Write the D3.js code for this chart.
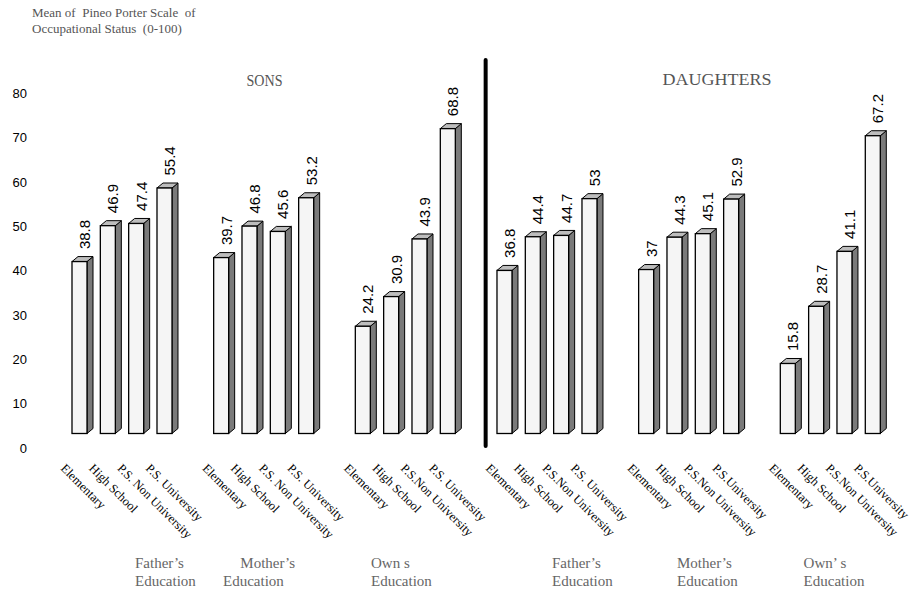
<!DOCTYPE html>
<html><head><meta charset="utf-8">
<script src="https://cdn.jsdelivr.net/npm/d3@7"></script>
<style>
html,body{margin:0;padding:0;background:#fff;}
svg{display:block;}
</style></head>
<body>
<svg id="chart" width="914" height="592"></svg>
<script>
// ---- data ----
const panels = ["SONS", "DAUGHTERS"];
const groupLine1 = ["Father’s", "Mother’s", "Own s", "Father’s", "Mother’s", "Own’ s"];
const groupLine2 = ["Education", "Education", "Education", "Education", "Education", "Education"];
const categories = [
  ["Elementary", "High School", "P.S. Non University", "P.S. University"],
  ["Elementary", "High School", "P.S. Non University", "P.S. University"],
  ["Elementary", "High School", "P.S.Non University", "P.S. University"],
  ["Elementary", "High School", "P.S.Non University", "P.S. University"],
  ["Elementary", "High School", "P.S.Non University", "P.S.University"],
  ["Elementary", "High School", "P.S.Non University", "P.S.University"]
];
const sonsFather   = [38.8, 46.9, 47.4, 55.4];
const sonsMother   = [39.7, 46.8, 45.6, 53.2];
const sonsOwn      = [24.2, 30.9, 43.9, 68.8];
const daughtersFather = [36.8, 44.4, 44.7, 53];
const daughtersMother = [37, 44.3, 45.1, 52.9];
const daughtersOwn    = [15.8, 28.7, 41.1, 67.2];
const series = [sonsFather, sonsMother, sonsOwn, daughtersFather, daughtersMother, daughtersOwn];
const yTicks = [0, 10, 20, 30, 40, 50, 60, 70, 80];
const valueLabels = [
  ["38.8","46.9","47.4","55.4"],["39.7","46.8","45.6","53.2"],["24.2","30.9","43.9","68.8"],
  ["36.8","44.4","44.7","53"],["37","44.3","45.1","52.9"],["15.8","28.7","41.1","67.2"]
];

// ---- layout ----
const serif = "'Liberation Serif','Times New Roman',serif";
const sans = "'Liberation Sans',Arial,sans-serif";
const barW = 15, depX = 6, depY = 5, baseShift = 14;
const slotsPerGroup = 5; // 4 bars + 1 gap
const totalSlots = 6 * slotsPerGroup - 1;
const x = d3.scaleLinear().domain([0, totalSlots - 1]).range([72, 865.3]);
const y = d3.scaleLinear().domain([0, 80]).range([447.5, 93]);
// group label offsets (relative to first bar left of group)
const lblOff1 = [63, 26.7, 15.7, 55, 38.4, 23.3];
const lblOff2 = [63, 9.4, 15.7, 55, 38.4, 23.3];

const svg = d3.select("#chart");

// title
const title = svg.append("text").attr("font-family", serif).attr("font-size", 13)
  .attr("fill", "#555").style("white-space", "pre");
title.append("tspan").attr("x", 32).attr("y", 17).text("Mean of  Pineo Porter Scale  of");
title.append("tspan").attr("x", 32).attr("y", 33).text("Occupational Status  (0-100)");

// y axis labels (no line)
const yAxis = d3.axisLeft(y).tickValues(yTicks).tickSize(0).tickPadding(0).tickFormat(d3.format("d"));
const ag = svg.append("g").attr("transform", "translate(27,0)").call(yAxis);
ag.select(".domain").remove();
ag.selectAll("text").attr("font-family", sans).attr("font-size", 13).attr("fill", "#000")
  .attr("dy", "0.35em");

// panel titles
svg.append("text").attr("x", 264.5).attr("y", 86).attr("text-anchor", "middle")
  .attr("font-family", serif).attr("font-size", 16).attr("fill", "#555")
  .attr("textLength", 36).attr("lengthAdjust", "spacingAndGlyphs").text(panels[0]);
svg.append("text").attr("x", 717).attr("y", 85).attr("text-anchor", "middle")
  .attr("font-family", serif).attr("font-size", 17).attr("fill", "#555")
  .attr("textLength", 109).attr("lengthAdjust", "spacingAndGlyphs").text(panels[1]);

// bars
const bars = [];
series.forEach((vals, g) => vals.forEach((v, i) => {
  bars.push({g, i, v, slot: g * slotsPerGroup + i, cat: categories[g][i], label: valueLabels[g][i]});
}));

const bg = svg.append("g");
const bgs = bg.selectAll("g.bar").data(bars).join("g").attr("class", "bar");
bgs.each(function(d) {
  const el = d3.select(this);
  const x0 = x(d.slot), x1 = x0 + barW;
  const yb = y(0) - baseShift, yt = y(d.v) - baseShift;
  // side face
  el.append("path").attr("d",
    `M${x1},${yt}L${x1 + depX},${yt - depY}L${x1 + depX},${yb - depY}L${x1},${yb}Z`)
    .attr("fill", "#7a7a7a").attr("stroke", "#000").attr("stroke-width", 1).attr("stroke-linejoin", "round");
  // top face
  el.append("path").attr("d",
    `M${x0},${yt}L${x0 + depX},${yt - depY}L${x1 + depX},${yt - depY}L${x1},${yt}Z`)
    .attr("fill", "#bdbdbd").attr("stroke", "#000").attr("stroke-width", 1).attr("stroke-linejoin", "round");
  // front face
  el.append("rect").attr("x", x0).attr("y", yt).attr("width", barW).attr("height", yb - yt)
    .attr("fill", "#f5f5f5").attr("stroke", "#000").attr("stroke-width", 1.3);
  // value label
  el.append("text").attr("transform", `translate(${x0 + 18},${yt - 12.5}) rotate(-90)`)
    .attr("font-family", sans).attr("font-size", 15).attr("fill", "#000").text(d.label);
  // category label
  el.append("text").attr("transform", `translate(${x0 - 12},469) rotate(45)`)
    .attr("font-family", serif).attr("font-size", 12.5).attr("fill", "#000").text(d.cat);
});

// divider
const divX = x(3 * slotsPerGroup - 1) + 17;
svg.append("line").attr("x1", divX).attr("x2", divX).attr("y1", 60).attr("y2", 446)
  .attr("stroke", "#000").attr("stroke-width", 4).attr("stroke-linecap", "round");

// group labels
groupLine1.forEach((t, g) => {
  const gx = x(g * slotsPerGroup);
  svg.append("text").attr("x", gx + lblOff1[g]).attr("y", 567.5).attr("font-family", serif)
    .attr("font-size", 15).attr("fill", "#666").style("white-space", "pre").text(t);
  svg.append("text").attr("x", gx + lblOff2[g]).attr("y", 586).attr("font-family", serif)
    .attr("font-size", 15).attr("fill", "#666").text(groupLine2[g]);
});
</script>
</body></html>
